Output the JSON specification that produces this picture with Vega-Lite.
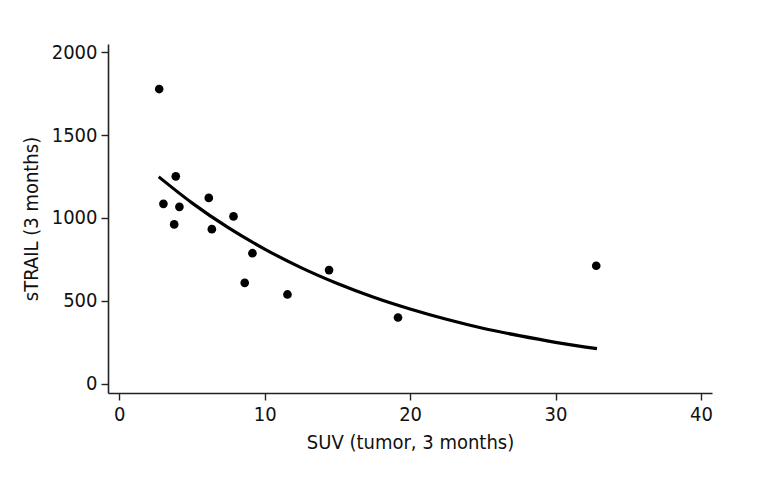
{
  "$schema": "https://vega.github.io/schema/vega-lite/v6.json",
  "width": 604,
  "height": 349,
  "autosize": {"type": "none"},
  "padding": {"left": 108, "top": 44, "right": 56, "bottom": 87},
  "background": "white",
  "config": {
    "view": {"stroke": null},
    "font": "DejaVu Sans Condensed, Liberation Sans, sans-serif",
    "axis": {
      "grid": false,
      "domainColor": "#222",
      "domainWidth": 1.6,
      "tickColor": "#222",
      "tickWidth": 1.4,
      "tickSize": 7,
      "labelFont": "DejaVu Sans Condensed, Liberation Sans, sans-serif",
      "labelFontSize": 20,
      "labelColor": "#111",
      "titleFont": "DejaVu Sans Condensed, Liberation Sans, sans-serif",
      "titleFontSize": 20,
      "titleFontWeight": "normal",
      "titleColor": "#111"
    }
  },
  "datasets": {
    "pts": [
      {"suv": 2.75, "trail": 1778},
      {"suv": 3.89, "trail": 1251},
      {"suv": 3.04, "trail": 1085},
      {"suv": 4.14, "trail": 1067},
      {"suv": 3.78, "trail": 961},
      {"suv": 6.16, "trail": 1121},
      {"suv": 6.37, "trail": 932},
      {"suv": 7.86, "trail": 1009},
      {"suv": 9.16, "trail": 787},
      {"suv": 8.63, "trail": 608},
      {"suv": 11.57, "trail": 538},
      {"suv": 14.43, "trail": 685},
      {"suv": 19.17, "trail": 399},
      {"suv": 32.8, "trail": 711}
    ],
    "fit": [
      {"suv": 2.72, "trail": 1248},
      {"suv": 5, "trail": 1091},
      {"suv": 7.5, "trail": 941},
      {"suv": 10, "trail": 812},
      {"suv": 12.5, "trail": 700},
      {"suv": 15, "trail": 604},
      {"suv": 17.5, "trail": 521},
      {"suv": 20, "trail": 450},
      {"suv": 22.5, "trail": 388},
      {"suv": 25, "trail": 334},
      {"suv": 27.5, "trail": 289},
      {"suv": 30, "trail": 249},
      {"suv": 32.85, "trail": 211}
    ]
  },
  "layer": [
    {
      "data": {"name": "fit"},
      "mark": {"type": "line", "color": "black", "strokeWidth": 3.2, "interpolate": "monotone"},
      "encoding": {
        "x": {"field": "suv", "type": "quantitative", "scale": {"domain": [-0.77, 40.76], "nice": false, "zero": false},
              "axis": {"values": [0, 10, 20, 30, 40], "format": "d", "title": "SUV (tumor, 3 months)", "labelPadding": 4, "titlePadding": 8}},
        "y": {"field": "trail", "type": "quantitative", "scale": {"domain": [-57, 2050], "nice": false, "zero": false},
              "axis": {"values": [0, 500, 1000, 1500, 2000], "format": "d", "title": "sTRAIL (3 months)", "labelPadding": 4, "titlePadding": 10}}
      }
    },
    {
      "data": {"name": "pts"},
      "mark": {"type": "point", "shape": "circle", "filled": true, "color": "black", "opacity": 1, "size": 75},
      "encoding": {
        "x": {"field": "suv", "type": "quantitative"},
        "y": {"field": "trail", "type": "quantitative"}
      }
    }
  ]
}
